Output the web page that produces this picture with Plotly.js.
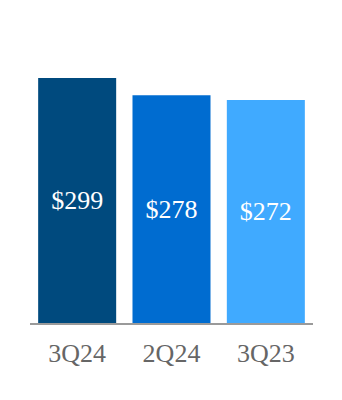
<!DOCTYPE html>
<html>
<head>
<meta charset="utf-8">
<script src="https://cdn.plot.ly/plotly-3.0.1.min.js"></script>
<style>html,body{margin:0;padding:0;background:#fff;}#chart{width:342px;height:400px;}</style>
</head>
<body>
<div id="chart"></div>
<script>
var categories = ["3Q24", "2Q24", "3Q23"];
var values = [299, 278, 272];
var barColors = ["#004a7e", "#006cd0", "#40aaff"];

var trace = {
  type: "bar",
  x: categories,
  y: values,
  marker: {color: barColors, line: {width: 0}},
  texttemplate: "$%{y}",
  textposition: "inside",
  insidetextanchor: "middle",
  constraintext: "none",
  textfont: {family: "Liberation Serif, Times New Roman, serif", size: 26, color: "#ffffff"},
  hoverinfo: "none"
};

var layout = {
  width: 342,
  height: 400,
  margin: {l: 30, r: 29, t: 53, b: 77, pad: 0},
  paper_bgcolor: "#ffffff",
  plot_bgcolor: "#ffffff",
  bargap: 0.173,
  showlegend: false,
  xaxis: {
    type: "category",
    showline: true,
    linecolor: "#9a9a9a",
    linewidth: 2,
    ticks: "",
    ticklabelstandoff: 6,
    showgrid: false,
    zeroline: false,
    tickfont: {family: "Liberation Serif, Times New Roman, serif", size: 26, color: "#666666"}
  },
  yaxis: {
    range: [0, 329.5],
    visible: false,
    showgrid: false,
    zeroline: false
  }
};

Plotly.newPlot("chart", [trace], layout, {staticPlot: true, displayModeBar: false});
</script>
</body>
</html>
